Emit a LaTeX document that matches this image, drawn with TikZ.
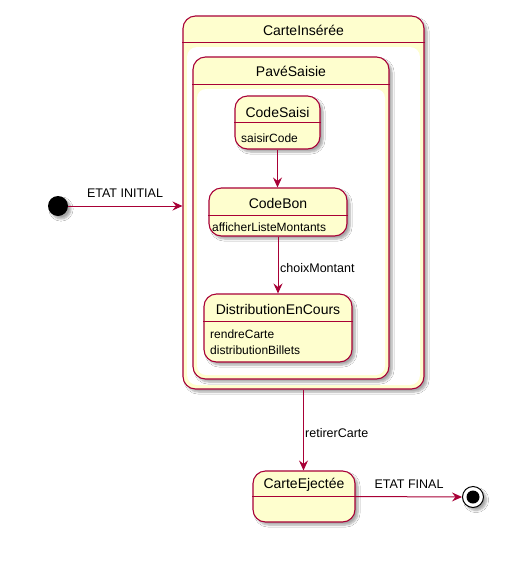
\documentclass[tikz,border=0pt]{standalone}
\usepackage{fontspec}
\setmainfont{Liberation Sans}
\usetikzlibrary{arrows.meta,shadows.blur,calc}
\definecolor{pborder}{HTML}{A80036}
\definecolor{pfill}{HTML}{FEFECE}
\begin{document}
\begin{tikzpicture}[x=1pt,y=-1pt,
 stbox/.style={draw=pborder, fill=pfill, line width=1.1pt, rounded corners=12.5pt, inner sep=0pt,
   blur shadow={shadow xshift=3pt, shadow yshift=-3pt, shadow opacity=35, shadow blur steps=6}},
 ttl/.style={font=\fontsize{14}{16}\selectfont, inner sep=0pt},
 attr/.style={font=\fontsize{12}{14}\selectfont, inner sep=0pt, anchor=west},
 lbl/.style={font=\fontsize{12.5}{14}\selectfont, inner sep=0pt},
 arr/.style={draw=pborder, line width=1pt, -{Stealth[length=10pt,width=9pt,inset=3.5pt]}},
 hline/.style={draw=pborder, line width=1pt}]
\useasboundingbox[fill=white] (0,0) rectangle (527,566);

% composite CarteInsérée
\node[stbox, minimum width=241pt, minimum height=373pt] (outer) at (303.5,202.5) {};
\draw[hline] ([yshift=-27pt]outer.north west) -- ([yshift=-27pt]outer.north east);
\fill[white, rounded corners=10pt] (187,47) rectangle (420,385);
\node[ttl] (outerT) at (303.5,30) {CarteInsérée};

% composite PavéSaisie
\node[stbox, minimum width=196pt, minimum height=322pt] (pave) at (291,218) {};
\draw[hline] ([yshift=-28pt]pave.north west) -- ([yshift=-28pt]pave.north east);
\fill[white, rounded corners=9pt] (197,89) rectangle (385,375);
\node[ttl] (paveT) at (291,71) {PavéSaisie};

% CodeSaisi
\node[stbox, minimum width=85pt, minimum height=53pt] (cs) at (277.5,122.5) {};
\draw[hline] ([yshift=-27pt]cs.north west) -- ([yshift=-27pt]cs.north east);
\node[ttl] (csT) at (277.5,112) {CodeSaisi};
\node[attr] (csA) at (241,138) {saisirCode};

% CodeBon
\node[stbox, minimum width=138pt, minimum height=48pt] (cb) at (278,212) {};
\draw[hline] ([yshift=-28pt]cb.north west) -- ([yshift=-28pt]cb.north east);
\node[ttl] (cbT) at (278,203) {CodeBon};
\node[attr] (cbA) at (212,227) {afficherListeMontants};

% DistributionEnCours
\node[stbox, minimum width=148pt, minimum height=68pt] (dist) at (278,328) {};
\draw[hline] ([yshift=-28pt]dist.north west) -- ([yshift=-28pt]dist.north east);
\node[ttl] (distT) at (278,309) {DistributionEnCours};
\node[attr] (distA) at (210,334) {rendreCarte};
\node[attr] (distB) at (210,350) {distributionBillets};

% CarteEjectée
\node[stbox, minimum width=102pt, minimum height=51pt] (ej) at (304,496.5) {};
\draw[hline] ([yshift=-26pt]ej.north west) -- ([yshift=-26pt]ej.north east);
\node[ttl] (ejT) at (304,485) {CarteEjectée};

% initial / final
\node[circle, fill=black, minimum size=20pt, inner sep=0pt,
  blur shadow={shadow xshift=3pt, shadow yshift=-3pt, shadow opacity=35, shadow blur steps=6}] (init) at (58,206) {};
\node[circle, draw=black, fill=white, minimum size=21pt, inner sep=0pt, line width=1pt,
  blur shadow={shadow xshift=3pt, shadow yshift=-3pt, shadow opacity=35, shadow blur steps=6}] (fin) at (473,497) {};
\node[circle, fill=black, minimum size=13pt, inner sep=0pt] (finDot) at (fin) {};

% transitions
\draw[arr] (init) -- (init -| outer.west);
\node[lbl] (l1) at (125,193) {ETAT INITIAL};
\draw[arr] (cs.south) -- (cs.south |- cb.north);
\draw[arr] (cb.south) -- (cb.south |- dist.north);
\node[lbl, anchor=west] (l2) at (280,268) {choixMontant};
\draw[arr] (outer.south) -- (outer.south |- ej.north);
\node[lbl, anchor=west] (l3) at (305,433) {retirerCarte};
\draw[arr] (ej.east) -- (fin.west);
\node[lbl] (l4) at (409,484) {ETAT FINAL};
\end{tikzpicture}
\end{document}
